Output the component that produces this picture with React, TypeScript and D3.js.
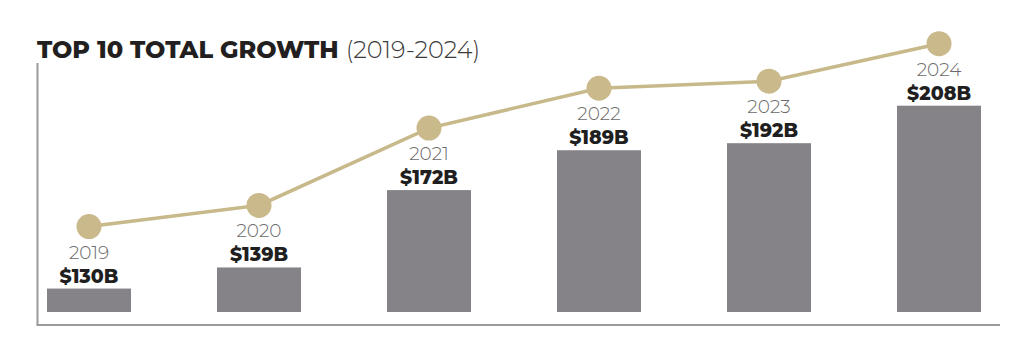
import React from "react";
import * as d3 from "d3";

const years = ["2019", "2020", "2021", "2022", "2023", "2024"];
const values = [130, 139, 172, 189, 192, 208];
const valueLabels = ["$130B", "$139B", "$172B", "$189B", "$192B", "$208B"];
const titleBold = "TOP 10 TOTAL GROWTH";
const titleLight = "(2019-2024)";

const W = 1024;
const H = 355;
const FONT = "Montserrat, 'Open Sans', Lato, sans-serif";

export default function App() {
  const x = d3.scaleBand<string>().domain(years).range([47, 981]).paddingInner(0.506).paddingOuter(0);
  const y = d3.scaleLinear().domain([120, 210]).range([312, 101]);
  const dotOffset = 62;
  const bw = x.bandwidth();
  const cx = (i: number) => (x(years[i]) as number) + bw / 2;
  const line = d3
    .line<number>()
    .x((_, i) => cx(i))
    .y((d) => y(d) - dotOffset);

  return (
    <svg width={W} height={H} style={{ position: "absolute", left: 0, top: 0, background: "#fff" }}>
      <text x={37} y={57.5} fontFamily={FONT} fontSize={24} fill="#231f20">
        <tspan fontWeight={800}>{titleBold}</tspan>
        <tspan fontWeight={300} fill="#3a3a3a" dx={7}>{titleLight}</tspan>
      </text>
      <line x1={37.5} x2={37.5} y1={63} y2={325} stroke="#9a9a9e" strokeWidth={2} />
      <line x1={36.5} x2={1000} y1={325} y2={325} stroke="#9a9a9e" strokeWidth={2} />
      {values.map((v, i) => (
        <rect key={"b" + i} x={x(years[i])} y={y(v)} width={bw} height={y.range()[0] - y(v)} fill="#858288" />
      ))}
      <path d={line(values) || ""} fill="none" stroke="#c8b98b" strokeWidth={3.5} />
      {values.map((v, i) => (
        <circle key={"c" + i} cx={cx(i)} cy={y(v) - dotOffset} r={12.5} fill="#c9b98b" />
      ))}
      {values.map((v, i) => (
        <g key={"t" + i} fontFamily={FONT} textAnchor="middle">
          <text x={cx(i)} y={y(v) - 30} fontSize={18.5} fontWeight={300} fill="#6a6a6a">
            {years[i]}
          </text>
          <text x={cx(i)} y={y(v) - 6} fontSize={19} fontWeight={800} fill="#1f1f1f">
            {valueLabels[i]}
          </text>
        </g>
      ))}
    </svg>
  );
}
